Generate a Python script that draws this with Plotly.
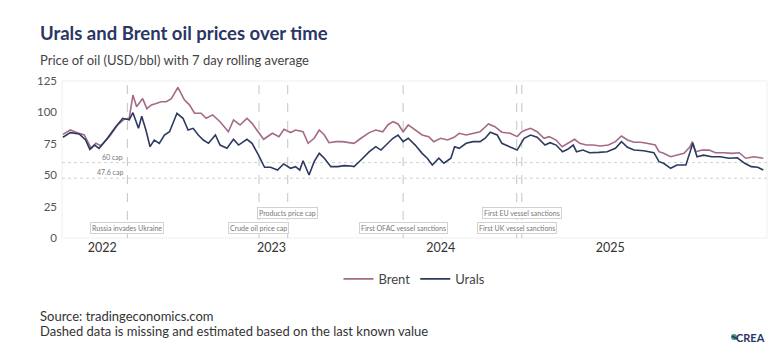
import plotly.graph_objects as go

# Brent, 7-day rolling average (USD/bbl)
brent_dates = [
    "2021-10-08", "2021-10-24", "2021-11-12", "2021-11-23", "2021-12-08", "2021-12-18", "2021-12-29",
    "2022-01-16", "2022-02-03", "2022-02-17", "2022-02-28", "2022-03-08", "2022-03-16", "2022-03-29",
    "2022-04-07", "2022-04-17", "2022-04-27", "2022-05-08", "2022-05-19", "2022-05-30", "2022-06-13",
    "2022-06-27", "2022-07-08", "2022-07-19", "2022-08-02", "2022-08-13", "2022-08-27", "2022-09-12",
    "2022-09-30", "2022-10-11", "2022-10-25", "2022-11-09", "2022-11-20", "2022-12-04", "2022-12-15",
    "2023-01-03", "2023-01-17", "2023-01-28", "2023-02-11", "2023-02-22", "2023-03-10", "2023-03-21",
    "2023-04-03", "2023-04-14", "2023-04-25", "2023-05-05", "2023-05-20", "2023-06-03", "2023-06-17",
    "2023-06-28", "2023-07-13", "2023-07-31", "2023-08-14", "2023-08-29", "2023-09-09", "2023-09-20",
    "2023-10-01", "2023-10-12", "2023-10-23", "2023-11-07", "2023-11-22", "2023-12-06", "2023-12-17",
    "2024-01-01", "2024-01-16", "2024-01-30", "2024-02-10", "2024-02-25", "2024-03-11", "2024-03-26",
    "2024-04-13", "2024-04-27", "2024-05-12", "2024-05-30", "2024-06-14", "2024-06-24", "2024-07-02",
    "2024-07-13", "2024-07-27", "2024-08-11", "2024-08-22", "2024-09-06", "2024-09-19", "2024-10-01",
    "2024-10-16", "2024-10-27", "2024-11-10", "2024-11-25", "2024-12-10", "2024-12-28", "2025-01-12",
    "2025-01-25", "2025-02-07", "2025-02-21", "2025-03-07", "2025-03-21", "2025-04-08", "2025-04-16",
    "2025-04-26", "2025-05-11", "2025-05-25", "2025-06-09", "2025-06-22", "2025-06-27", "2025-07-04",
    "2025-07-18", "2025-08-02", "2025-08-16", "2025-09-03", "2025-09-21", "2025-10-06", "2025-10-20",
    "2025-11-07", "2025-11-27",
]
brent_values = [
    82.5, 86.0, 83.3, 82.0, 71.4, 75.4, 73.5,
    80.7, 90.0, 94.5, 95.3, 113.8, 104.5, 111.0,
    103.0, 106.0, 107.0, 108.5, 108.5, 111.0, 120.0,
    110.0, 106.0, 99.3, 99.3, 95.3, 98.0, 92.6,
    84.6, 94.0, 90.0, 95.3, 91.3, 84.6, 78.6,
    83.4, 80.7, 86.5, 84.0, 86.0, 84.6, 75.4,
    79.4, 86.0, 82.0, 75.9, 76.7, 76.7, 75.9,
    75.4, 79.4, 83.9, 86.0, 84.6, 90.0, 92.6,
    90.8, 84.6, 90.0, 86.0, 82.0, 80.7, 76.7,
    79.4, 78.0, 80.2, 83.4, 82.0, 83.4, 84.6,
    90.8, 88.6, 84.2, 83.4, 80.7, 84.6, 86.0,
    87.3, 84.6, 79.4, 80.7, 78.0, 72.7, 75.4,
    78.6, 75.4, 74.0, 74.0, 73.2, 74.0, 76.7,
    81.2, 78.0, 76.2, 76.2, 75.4, 74.0, 68.7,
    67.4, 64.7, 66.0, 67.4, 72.7, 76.7, 68.7,
    70.0, 70.0, 67.9, 67.9, 67.4, 67.9, 63.5,
    64.7, 63.5,
]

# Urals, 7-day rolling average (USD/bbl)
urals_dates = [
    "2021-10-08", "2021-10-24", "2021-11-12", "2021-11-26", "2021-12-05", "2021-12-15", "2021-12-25",
    "2022-01-12", "2022-01-30", "2022-02-14", "2022-02-28", "2022-03-08", "2022-03-20", "2022-03-27",
    "2022-04-05", "2022-04-14", "2022-04-23", "2022-05-04", "2022-05-15", "2022-05-26", "2022-06-11",
    "2022-06-24", "2022-07-05", "2022-07-16", "2022-07-27", "2022-08-07", "2022-08-18", "2022-09-02",
    "2022-09-12", "2022-09-27", "2022-10-11", "2022-10-22", "2022-11-09", "2022-11-20", "2022-12-04",
    "2022-12-17", "2022-12-30", "2023-01-14", "2023-01-27", "2023-02-11", "2023-02-22", "2023-03-03",
    "2023-03-10", "2023-03-23", "2023-04-03", "2023-04-14", "2023-04-25", "2023-05-09", "2023-05-24",
    "2023-06-07", "2023-06-21", "2023-06-28", "2023-07-13", "2023-07-31", "2023-08-14", "2023-08-25",
    "2023-09-09", "2023-09-20", "2023-10-01", "2023-10-12", "2023-10-23", "2023-11-07", "2023-11-22",
    "2023-12-03", "2023-12-14", "2023-12-28", "2024-01-08", "2024-01-23", "2024-01-31", "2024-02-10",
    "2024-02-25", "2024-03-11", "2024-03-26", "2024-04-06", "2024-04-17", "2024-05-02", "2024-05-12",
    "2024-05-27", "2024-06-14", "2024-06-29", "2024-07-13", "2024-07-27", "2024-08-13", "2024-08-24",
    "2024-09-06", "2024-09-20", "2024-10-01", "2024-10-13", "2024-10-20", "2024-11-03", "2024-11-17",
    "2024-12-07", "2024-12-25", "2025-01-12", "2025-01-25", "2025-02-07", "2025-02-21", "2025-03-14",
    "2025-04-05", "2025-04-16", "2025-04-26", "2025-05-11", "2025-05-25", "2025-06-13", "2025-06-22",
    "2025-06-28", "2025-07-07", "2025-07-21", "2025-08-08", "2025-08-26", "2025-09-14", "2025-10-02",
    "2025-10-18", "2025-11-01", "2025-11-15", "2025-11-27",
]
urals_values = [
    80.2, 83.9, 82.8, 78.0, 70.6, 74.0, 71.4,
    79.4, 88.6, 95.3, 94.0, 99.8, 87.3, 97.0,
    86.0, 72.7, 78.0, 75.4, 82.0, 84.6, 99.3,
    95.3, 86.0, 87.3, 82.0, 78.0, 75.4, 82.0,
    74.0, 71.4, 78.6, 74.0, 78.6, 75.4, 66.0,
    56.3, 56.3, 54.1, 59.0, 55.5, 56.8, 54.1,
    61.5, 50.2, 60.8, 67.4, 63.5, 56.8, 56.8,
    57.6, 57.3, 56.8, 62.1, 68.7, 72.7, 70.0,
    75.4, 79.4, 82.0, 76.7, 79.4, 74.0, 67.4,
    63.5, 58.1, 63.5, 59.5, 63.5, 72.7, 71.4,
    75.4, 76.7, 76.7, 79.4, 84.2, 82.0, 75.4,
    72.7, 70.0, 79.4, 82.0, 80.2, 74.0, 75.9,
    74.0, 68.7, 70.6, 74.0, 68.7, 70.0, 67.9,
    68.2, 68.7, 71.4, 76.7, 72.2, 70.0, 69.5,
    67.9, 60.8, 59.5, 55.5, 58.1, 58.1, 68.7,
    75.4, 64.7, 66.0, 64.7, 64.7, 63.5, 63.9,
    59.5, 56.8, 56.3, 54.1,
]

# Policy events marked on the timeline, with label height (USD/bbl)
event_dates = ["2022-02-24", "2022-12-05", "2023-02-05", "2023-10-12", "2024-06-13", "2024-06-24"]
event_labels = [
    "Russia invades Ukraine", "Crude oil price cap", "Products price cap",
    "First OFAC vessel sanctions", "First UK vessel sanctions", "First EU vessel sanctions",
]
event_label_y = [8, 8, 20, 8, 8, 20]

# Price caps (USD/bbl)
cap_values = [60, 47.6]
cap_labels = ["60 cap", "47.6 cap"]

year_ticks = ["2022-01-01", "2023-01-01", "2024-01-01", "2025-01-01"]
year_labels = ["2022", "2023", "2024", "2025"]
y_ticks = [0, 25, 50, 75, 100, 125]

BRENT_COLOR = "#a46a87"
URALS_COLOR = "#2b3a5e"
NAVY = "#2b3566"
FONT = "Lato, 'Noto Sans', sans-serif"

fig = go.Figure()
fig.add_trace(go.Scatter(x=brent_dates, y=brent_values, name="Brent", mode="lines",
                         line=dict(color=BRENT_COLOR, width=1.6)))
fig.add_trace(go.Scatter(x=urals_dates, y=urals_values, name="Urals", mode="lines",
                         line=dict(color=URALS_COLOR, width=1.6)))

shapes = [
    dict(type="rect", xref="paper", yref="paper", x0=0, x1=1, y0=0, y1=1,
         line=dict(color="#efefef", width=1), layer="below"),
]
annotations = []

for v, lab in zip(cap_values, cap_labels):
    shapes.append(dict(type="line", xref="paper", yref="y", x0=0, x1=1, y0=v, y1=v,
                       line=dict(color="#d0d0d0", width=1, dash="dot"), layer="below"))
    annotations.append(dict(x="2022-02-19", y=v, xref="x", yref="y", text=lab, showarrow=False,
                            xanchor="right", yanchor="bottom",
                            font=dict(size=7, color="#777", family=FONT)))

for d, lab, ly in zip(event_dates, event_labels, event_label_y):
    shapes.append(dict(type="line", xref="x", yref="paper", x0=d, x1=d, y0=0, y1=1,
                       line=dict(color="#c4c4c4", width=1, dash="dash"), layer="below"))
    annotations.append(dict(x=d, y=ly, xref="x", yref="y", text=lab, showarrow=False,
                            xanchor="center", yanchor="middle",
                            bgcolor="white", bordercolor="#d2d2d2", borderwidth=1, borderpad=1,
                            font=dict(size=7, color="#777", family=FONT)))

# Title, subtitle and footer
annotations += [
    dict(xref="paper", yref="paper", x=-24 / 705, y=1 + 48 / 157, xanchor="left", yanchor="middle",
         text="<b>Urals and Brent oil prices over time</b>", showarrow=False,
         font=dict(size=18.5, color=NAVY, family=FONT)),
    dict(xref="paper", yref="paper", x=-24 / 705, y=1 + 21 / 157, xanchor="left", yanchor="middle",
         text="Price of oil (USD/bbl) with 7 day rolling average", showarrow=False,
         font=dict(size=13, color="#444", family=FONT)),
    dict(xref="paper", yref="paper", x=-24 / 705, y=-78 / 157, xanchor="left", yanchor="middle",
         text="Source: tradingeconomics.com", showarrow=False,
         font=dict(size=13, color="#333", family=FONT)),
    dict(xref="paper", yref="paper", x=-24 / 705, y=-93 / 157, xanchor="left", yanchor="middle",
         text="Dashed data is missing and estimated based on the last known value", showarrow=False,
         font=dict(size=13, color="#333", family=FONT)),
    dict(xref="paper", yref="paper", x=1.0, y=-99 / 157, xanchor="right", yanchor="middle",
         text="<b>CREA</b>", showarrow=False,
         font=dict(size=11, color=NAVY, family=FONT)),
]
# small logo mark next to CREA
shapes += [
    dict(type="circle", xref="paper", yref="paper",
         x0=(731 - 62) / 705, x1=(737 - 62) / 705, y0=(238 - 340) / 157, y1=(238 - 334) / 157,
         fillcolor="#3f9e7a", line=dict(width=0)),
    dict(type="line", xref="paper", yref="paper",
         x0=(732 - 62) / 705, x1=(737 - 62) / 705, y0=(238 - 336) / 157, y1=(238 - 339) / 157,
         line=dict(color=NAVY, width=1.5)),
]

fig.update_layout(
    width=780, height=348,
    margin=dict(l=62, r=13, t=81, b=110),
    paper_bgcolor="white", plot_bgcolor="white",
    font=dict(family=FONT, color="#444"),
    showlegend=True,
    legend=dict(orientation="h", x=0.5, xanchor="center", y=-0.165, yanchor="top",
                font=dict(size=13, color="#444", family=FONT), itemwidth=30),
    xaxis=dict(type="date", range=["2021-10-06", "2025-12-05"], tickvals=year_ticks,
               ticktext=year_labels, showgrid=False, zeroline=False, showline=False,
               ticks="", tickfont=dict(size=12.5, color="#333", family=FONT)),
    yaxis=dict(range=[0, 125], tickvals=y_ticks, showgrid=False, zeroline=False,
               showline=False, ticks="", ticklabelstandoff=4,
               tickfont=dict(size=11.5, color="#555", family=FONT)),
    shapes=shapes,
    annotations=annotations,
)

fig.write_html("out.html")
